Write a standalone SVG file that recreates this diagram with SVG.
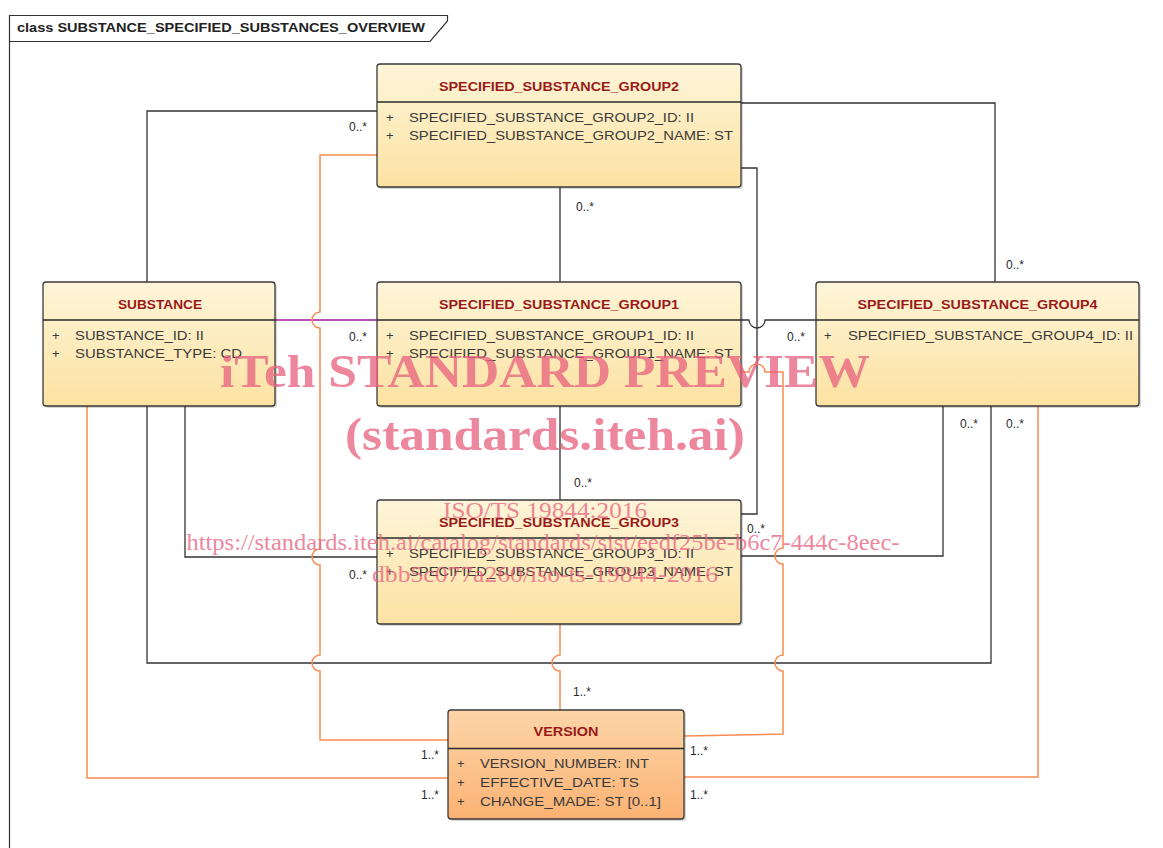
<svg xmlns="http://www.w3.org/2000/svg" width="1163" height="848" viewBox="0 0 1163 848">
<style>
.box{stroke:#3a3a3a;stroke-width:1.3}
.cls{fill:url(#g)}
.ver{fill:url(#gv)}
.sh{fill:#000;opacity:0.16}
.div{stroke:#2a2a2a;stroke-width:1.3}
.t{font-family:"Liberation Sans",Arial,sans-serif;font-weight:bold;font-size:12.5px;fill:#9a1a1a;text-anchor:middle}
.a{font-family:"Liberation Sans",Arial,sans-serif;font-size:13px;fill:#3a3a3a}
.m{font-family:"Liberation Sans",Arial,sans-serif;font-size:12px;fill:#2a2a2a}
.blk{fill:none;stroke:#333;stroke-width:1.3}
.org{fill:none;stroke:#F98B50;stroke-width:1.5}
.pur{fill:none;stroke:#A0189E;stroke-width:1.3}
.wm{font-family:"Liberation Serif","Times New Roman",serif;fill:#E8607E;opacity:0.75}
</style>
<defs>
<linearGradient id="g" x1="0" y1="0" x2="0" y2="1">
<stop offset="0" stop-color="#FEF5D9"/>
<stop offset="1" stop-color="#FCE2A2"/>
</linearGradient>
<linearGradient id="gv" x1="0" y1="0" x2="0" y2="1">
<stop offset="0" stop-color="#FDD5A9"/>
<stop offset="1" stop-color="#FBB273"/>
</linearGradient>
</defs>
<rect width="1163" height="848" fill="#fff"/>
<g id="frame">
<path d="M9.5,848 V15.5 H447.5 V21 L430,41.5 H9.5" fill="none" stroke="#333" stroke-width="1.2"/>
<text x="17" y="32" font-family="Liberation Sans,Arial,sans-serif" font-weight="bold" font-size="12px" fill="#222" textLength="408" lengthAdjust="spacingAndGlyphs">class SUBSTANCE_SPECIFIED_SUBSTANCES_OVERVIEW</text>
</g>
<g id="connectors">
<!-- black -->
<path class="blk" d="M147,282 V111 H377"/>
<path class="blk" d="M741,103 H995 V282"/>
<path class="blk" d="M560,187 V282"/>
<path class="blk" d="M741,168 H757 V514 H741"/>
<path class="blk" d="M741,320 H749 A8,8 0 0 0 765,320 H816"/>
<path class="blk" d="M560,406 V500"/>
<path class="blk" d="M185,406 V557 H377"/>
<path class="blk" d="M943,406 V556 H741"/>
<path class="blk" d="M147,406 V663 H991 V406"/>
<!-- purple -->
<path class="pur" d="M275,320 H377"/>
<!-- orange -->
<path class="org" d="M377,155 H320 V312 A8,8 0 0 0 320,328 V549 A8,8 0 0 0 320,565 V655 A8,8 0 0 0 320,671 V740 H448"/>
<path class="org" d="M87,406 V778 H448"/>
<path class="org" d="M560,624 V655 A8,8 0 0 0 560,671 V710"/>
<path class="org" d="M741,372 H749 A8,8 0 0 1 765,372 H783 V548 A8,8 0 0 0 783,564 V655 A8,8 0 0 0 783,671 V734 L684,736"/>
<path class="org" d="M1038,406 V777 H684"/>
<!-- multiplicities -->
<text class="m" x="349" y="131">0..*</text>
<text class="m" x="576" y="211">0..*</text>
<text class="m" x="1006" y="269">0..*</text>
<text class="m" x="349" y="341">0..*</text>
<text class="m" x="787" y="341">0..*</text>
<text class="m" x="574" y="487">0..*</text>
<text class="m" x="747" y="533">0..*</text>
<text class="m" x="349" y="579">0..*</text>
<text class="m" x="960" y="428">0..*</text>
<text class="m" x="1006" y="428">0..*</text>
<text class="m" x="573" y="696">1..*</text>
<text class="m" x="421" y="759">1..*</text>
<text class="m" x="421" y="799">1..*</text>
<text class="m" x="690" y="755">1..*</text>
<text class="m" x="690" y="799">1..*</text>
</g>
<g id="group2">
<rect class="sh" x="379" y="66" width="364" height="123" rx="3"/>
<rect class="box cls" x="377" y="64" width="364" height="123" rx="3"/>
<line class="div" x1="377" y1="102" x2="741" y2="102"/>
<text class="t" x="559" y="90.5" textLength="240" lengthAdjust="spacingAndGlyphs">SPECIFIED_SUBSTANCE_GROUP2</text>
<text class="a" x="386" y="122">+</text>
<text class="a" x="409" y="122" textLength="285" lengthAdjust="spacingAndGlyphs">SPECIFIED_SUBSTANCE_GROUP2_ID: II</text>
<text class="a" x="386" y="140">+</text>
<text class="a" x="409" y="140" textLength="324" lengthAdjust="spacingAndGlyphs">SPECIFIED_SUBSTANCE_GROUP2_NAME: ST</text>
</g>
<g id="substance">
<rect class="sh" x="45" y="284" width="232" height="124" rx="3"/>
<rect class="box cls" x="43" y="282" width="232" height="124" rx="3"/>
<line class="div" x1="43" y1="320" x2="275" y2="320"/>
<text class="t" x="160" y="308.5" textLength="84" lengthAdjust="spacingAndGlyphs">SUBSTANCE</text>
<text class="a" x="52" y="340">+</text>
<text class="a" x="75" y="340" textLength="129" lengthAdjust="spacingAndGlyphs">SUBSTANCE_ID: II</text>
<text class="a" x="52" y="358">+</text>
<text class="a" x="75" y="358" textLength="167" lengthAdjust="spacingAndGlyphs">SUBSTANCE_TYPE: CD</text>
</g>
<g id="group1">
<rect class="sh" x="379" y="284" width="364" height="124" rx="3"/>
<rect class="box cls" x="377" y="282" width="364" height="124" rx="3"/>
<line class="div" x1="377" y1="320" x2="741" y2="320"/>
<text class="t" x="559" y="308.5" textLength="240" lengthAdjust="spacingAndGlyphs">SPECIFIED_SUBSTANCE_GROUP1</text>
<text class="a" x="386" y="340">+</text>
<text class="a" x="409" y="340" textLength="285" lengthAdjust="spacingAndGlyphs">SPECIFIED_SUBSTANCE_GROUP1_ID: II</text>
<text class="a" x="386" y="358">+</text>
<text class="a" x="409" y="358" textLength="324" lengthAdjust="spacingAndGlyphs">SPECIFIED_SUBSTANCE_GROUP1_NAME: ST</text>
</g>
<g id="group4">
<rect class="sh" x="818" y="284" width="323" height="124" rx="3"/>
<rect class="box cls" x="816" y="282" width="323" height="124" rx="3"/>
<line class="div" x1="816" y1="320" x2="1139" y2="320"/>
<text class="t" x="977.5" y="308.5" textLength="240" lengthAdjust="spacingAndGlyphs">SPECIFIED_SUBSTANCE_GROUP4</text>
<text class="a" x="824" y="340">+</text>
<text class="a" x="848" y="340" textLength="285" lengthAdjust="spacingAndGlyphs">SPECIFIED_SUBSTANCE_GROUP4_ID: II</text>
</g>
<g id="group3">
<rect class="sh" x="379" y="502" width="364" height="124" rx="3"/>
<rect class="box cls" x="377" y="500" width="364" height="124" rx="3"/>
<line class="div" x1="377" y1="538" x2="741" y2="538"/>
<text class="t" x="559" y="526.5" textLength="240" lengthAdjust="spacingAndGlyphs">SPECIFIED_SUBSTANCE_GROUP3</text>
<text class="a" x="386" y="558">+</text>
<text class="a" x="409" y="558" textLength="285" lengthAdjust="spacingAndGlyphs">SPECIFIED_SUBSTANCE_GROUP3_ID: II</text>
<text class="a" x="386" y="576">+</text>
<text class="a" x="409" y="576" textLength="324" lengthAdjust="spacingAndGlyphs">SPECIFIED_SUBSTANCE_GROUP3_NAME: ST</text>
</g>
<g id="version">
<rect class="sh" x="450" y="712" width="236" height="109" rx="3"/>
<rect class="box ver" x="448" y="710" width="236" height="109" rx="3"/>
<line class="div" x1="448" y1="748.5" x2="684" y2="748.5"/>
<text class="t" x="566" y="736" textLength="65" lengthAdjust="spacingAndGlyphs">VERSION</text>
<text class="a" x="457" y="768">+</text>
<text class="a" x="480" y="768" textLength="169" lengthAdjust="spacingAndGlyphs">VERSION_NUMBER: INT</text>
<text class="a" x="457" y="786.5">+</text>
<text class="a" x="480" y="786.5" textLength="159" lengthAdjust="spacingAndGlyphs">EFFECTIVE_DATE: TS</text>
<text class="a" x="457" y="805.5">+</text>
<text class="a" x="480" y="805.5" textLength="181" lengthAdjust="spacingAndGlyphs">CHANGE_MADE: ST [0..1]</text>
</g>
<g id="watermark">
<text class="wm" x="545" y="387" font-size="47px" font-weight="bold" text-anchor="middle" textLength="650" lengthAdjust="spacingAndGlyphs">iTeh STANDARD PREVIEW</text>
<text class="wm" x="545" y="450" font-size="47px" font-weight="bold" text-anchor="middle" textLength="400" lengthAdjust="spacingAndGlyphs">(standards.iteh.ai)</text>
<text class="wm" x="545" y="518" font-size="24px" text-anchor="middle" textLength="204" lengthAdjust="spacingAndGlyphs" opacity="0.8">ISO/TS 19844:2016</text>
<text class="wm" x="543" y="550" font-size="24px" text-anchor="middle" textLength="713" lengthAdjust="spacingAndGlyphs" opacity="0.8">https://standards.iteh.ai/catalog/standards/sist/eedf25be-b6c7-444c-8eec-</text>
<text class="wm" x="545" y="582" font-size="24px" text-anchor="middle" textLength="346" lengthAdjust="spacingAndGlyphs" opacity="0.8">dbb5c077a260/iso-ts-19844-2016</text>
</g>
</svg>
